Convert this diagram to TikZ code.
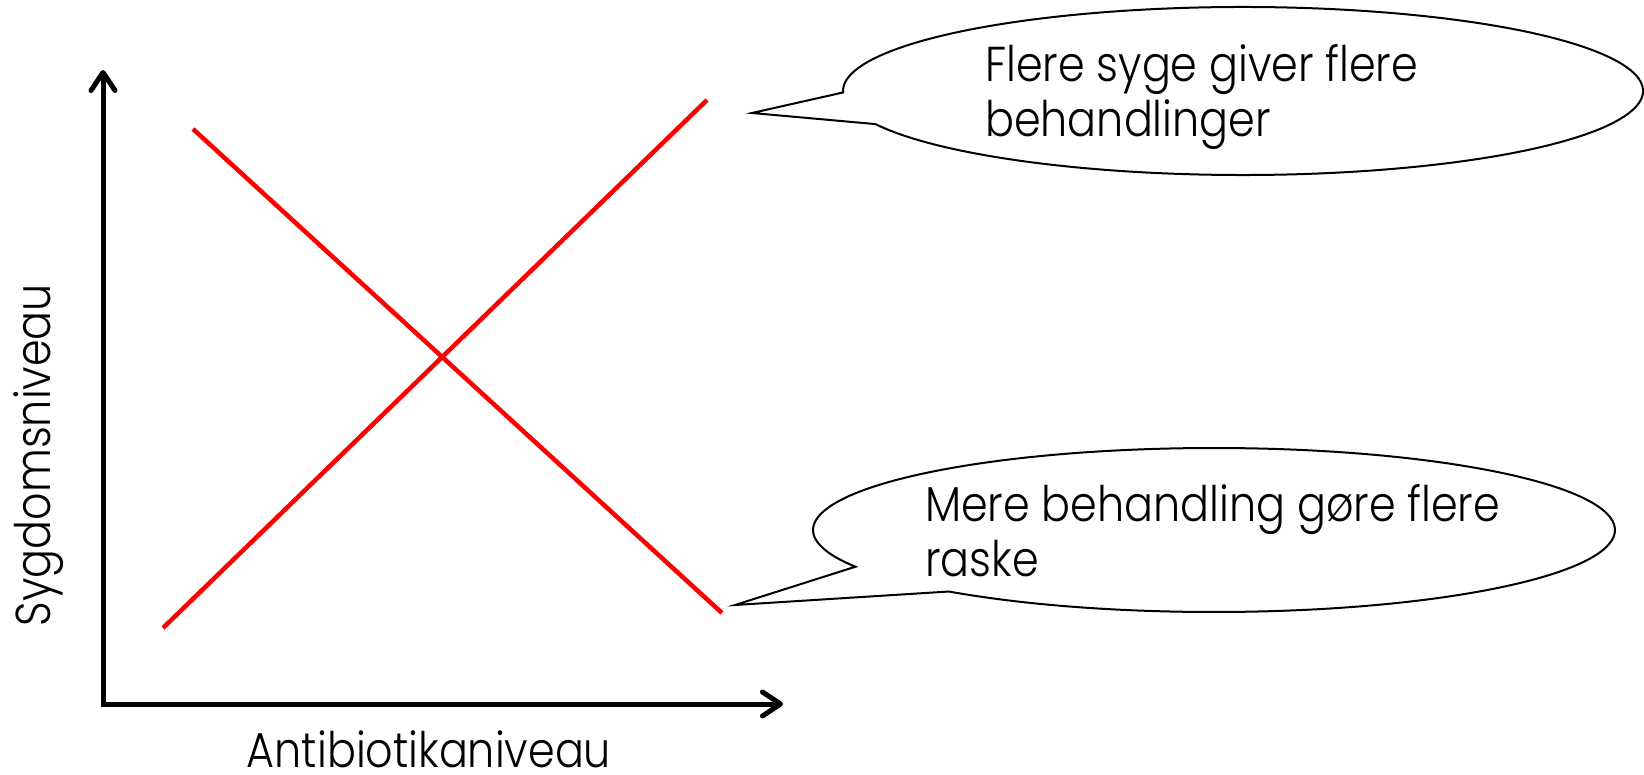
\documentclass[tikz,border=0pt]{standalone}
\usepackage{fontspec}
\usepackage{graphicx}
\setmainfont{Poppins Light}
\usetikzlibrary{arrows.meta}
\newcommand\narrowtxt[1]{\scalebox{0.875}[1]{#1}}
\begin{document}
\begin{tikzpicture}[x=1pt,y=1pt,
  axis/.style={line width=5pt, line join=miter},
  redline/.style={draw=red, line width=4.5pt},
  bubble/.style={draw=black, line width=2pt, fill=white, line join=miter},
  lbl/.style={font=\fontsize{49}{55}\selectfont, inner sep=0pt, anchor=base west}]
\useasboundingbox (0,0) rectangle (1644,-775);

% axes
\coordinate (ytip) at (103,-70);
\coordinate (org) at (103,-704);
\coordinate (xtip) at (783,-704);
\draw[axis, {Straight Barb[length=18pt,width=24pt,round]}-{Straight Barb[length=18pt,width=24pt,round]}] (ytip) -- (org) -- (xtip);

% red lines
\coordinate (a1) at (193,-129);
\coordinate (a2) at (722,-613);
\coordinate (b1) at (163,-628);
\coordinate (b2) at (707,-100);
\draw[redline] (a1) -- (a2);
\draw[redline] (b1) -- (b2);

% bubble 1
\coordinate (c1) at (1243,-91);
\coordinate (t1) at (752,-113);
\draw[bubble] (c1) ++(203.2:400 and 84) arc[start angle=203.2, end angle=541, x radius=400, y radius=84] -- (t1) -- cycle;

% bubble 2
\coordinate (c2) at (1214,-530);
\coordinate (t2) at (735,-605);
\draw[bubble] (c2) ++(228.6:401 and 82) arc[start angle=228.6, end angle=566.6, x radius=401, y radius=82] -- (t2) -- cycle;

% texts
\node[lbl] (q1a) at (985,-82) {\narrowtxt{Flere syge giver flere}};
\node[lbl] (q1b) at (985,-137) {\narrowtxt{behandlinger}};
\node[lbl] (q2a) at (925,-521) {\narrowtxt{Mere behandling gøre flere}};
\node[lbl] (q2b) at (925,-576) {\narrowtxt{raske}};
\node[lbl, anchor=base] (xl) at (429,-767) {\narrowtxt{Antibiotikaniveau}};
\node[lbl, anchor=base, rotate=90] (yl) at (50,-455) {\narrowtxt{Sygdomsniveau}};
\end{tikzpicture}
\end{document}
